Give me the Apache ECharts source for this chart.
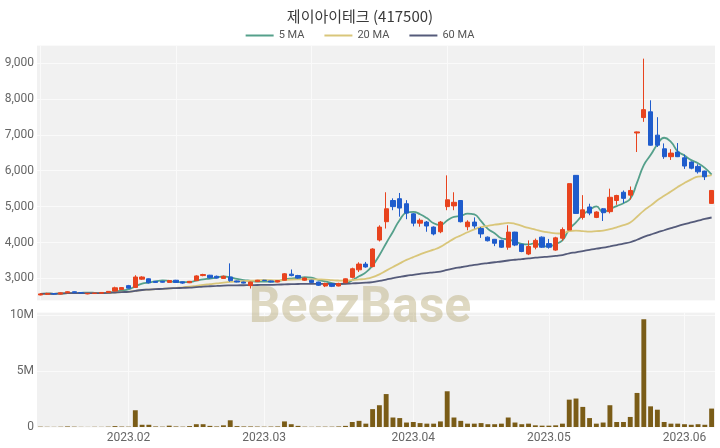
<!DOCTYPE html>
<html><head><meta charset="utf-8">
<script src="https://cdn.jsdelivr.net/npm/echarts@6/dist/echarts.min.js"></script>
<style>html,body{margin:0;padding:0;background:#fff}#c{width:720px;height:448px}</style>
</head><body><div id="c"></div>
<script>
const title = '제이아이테크 (417500)';
const dates = [
'2023-01-11','2023-01-12','2023-01-13','2023-01-16','2023-01-17','2023-01-18','2023-01-19','2023-01-20','2023-01-25','2023-01-26','2023-01-27','2023-01-30','2023-01-31',
'2023-02-01','2023-02-02','2023-02-03','2023-02-06','2023-02-07','2023-02-08','2023-02-09','2023-02-10','2023-02-13','2023-02-14','2023-02-15','2023-02-16','2023-02-17','2023-02-20','2023-02-21','2023-02-22','2023-02-23','2023-02-24','2023-02-27','2023-02-28',
'2023-03-02','2023-03-03','2023-03-06','2023-03-07','2023-03-08','2023-03-09','2023-03-10','2023-03-13','2023-03-14','2023-03-15','2023-03-16','2023-03-17','2023-03-20','2023-03-21','2023-03-22','2023-03-23','2023-03-24','2023-03-27','2023-03-28','2023-03-29','2023-03-30','2023-03-31',
'2023-04-03','2023-04-04','2023-04-05','2023-04-06','2023-04-07','2023-04-10','2023-04-11','2023-04-12','2023-04-13','2023-04-14','2023-04-17','2023-04-18','2023-04-19','2023-04-20','2023-04-21','2023-04-24','2023-04-25','2023-04-26','2023-04-27','2023-04-28',
'2023-05-02','2023-05-03','2023-05-04','2023-05-08','2023-05-09','2023-05-10','2023-05-11','2023-05-12','2023-05-15','2023-05-16','2023-05-17','2023-05-18','2023-05-19','2023-05-22','2023-05-23','2023-05-24','2023-05-25','2023-05-26','2023-05-30','2023-05-31',
'2023-06-01','2023-06-02','2023-06-05','2023-06-07','2023-06-08'];
const opens = [2540,2560,2580,2565,2600,2630,2605,2570,2580,2590,2610,2650,2690,
2800,2750,2980,2990,2920,2920,2890,2950,2905,2880,2940,3080,3090,3060,3000,3040,2930,2900,2800,2910,
2950,2930,2900,2950,3120,3080,2950,2950,2900,2790,2850,2790,2880,3030,3240,3400,3330,4070,4580,5170,5220,5080,
4800,4540,4570,4430,4300,5000,5020,5170,4440,4570,4390,4150,4090,4060,3870,4290,3950,3680,3870,4150,
3970,3790,4120,4350,5870,4700,4990,4700,4940,4860,5170,5400,5320,7050,7480,7640,6990,6610,6390,6520,
6360,6240,6120,5990,5090];
const closes = [2570,2580,2565,2600,2630,2605,2600,2580,2590,2610,2640,2740,2745,
2730,3040,3040,2880,2890,2895,2940,2890,2870,2920,3070,3110,3020,3010,3060,2940,2900,2870,2900,2950,
2940,2900,2940,3130,3080,3010,3010,2890,2810,2860,2780,2860,2990,3270,3400,3320,3820,4430,4940,5000,4960,4820,
4540,4620,4460,4240,4570,5190,5120,4580,4570,4460,4240,4050,3980,3870,4290,3930,3750,3890,4060,3870,
3870,4130,4360,5640,4810,4910,4820,4850,4830,5260,5310,5230,5450,7080,7700,6710,6710,6390,6490,6390,
6130,6070,5970,5830,5450];
const lows = [2530,2545,2550,2555,2590,2595,2590,2560,2575,2580,2600,2640,2680,
2720,2740,2960,2860,2880,2885,2875,2880,2850,2870,2930,3060,3000,3000,2990,2910,2890,2860,2720,2900,
2930,2890,2890,2940,3060,2990,2930,2880,2790,2760,2760,2780,2870,3000,3180,3300,3310,4030,4390,4900,4720,4650,
4450,4440,4300,4200,4260,4900,4900,4560,4340,4390,4130,4030,3900,3850,3800,3900,3730,3650,3810,3850,
3830,3770,4050,4340,4800,4640,4760,4680,4600,4810,5050,5100,5200,6520,7360,6700,6660,6330,6300,6380,
6050,6040,5920,5740,5080];
const highs = [2590,2600,2590,2615,2645,2640,2615,2595,2600,2620,2650,2770,2760,
2820,3090,3060,3000,2930,2930,2960,2960,2910,2930,3090,3130,3100,3080,3080,3420,2940,2910,2910,2960,
2960,2940,2950,3150,3250,3100,3030,2960,2910,2880,2870,2880,3000,3300,3450,3460,3840,4480,5400,5230,5380,5180,
4820,4670,4600,4450,4600,5870,5400,5180,4620,4700,4430,4170,4100,4080,4480,4300,3960,4060,4110,4170,
4100,4160,4420,5650,5880,5320,5080,4870,4960,5500,5330,5450,5560,7090,9120,7960,7490,6760,6600,6770,
6450,6260,6180,6000,5460];
const volumes = [30000,20000,15000,25000,50000,30000,15000,10000,20000,15000,30000,80000,40000,
30000,1500000,200000,200000,50000,30000,120000,50000,30000,80000,250000,250000,100000,50000,150000,600000,80000,50000,50000,40000,
30000,40000,50000,500000,250000,100000,30000,20000,30000,30000,30000,50000,100000,450000,550000,300000,1600000,1950000,2950000,850000,800000,400000,
450000,350000,300000,300000,500000,3200000,850000,550000,300000,300000,350000,250000,250000,300000,850000,400000,250000,300000,150000,120000,
120000,150000,300000,2450000,2550000,1800000,800000,300000,400000,1950000,450000,450000,900000,3050000,9650000,1850000,1550000,450000,300000,300000,
250000,200000,250000,200000,1650000];
const maPeriods = [5, 20, 60];
const maNames = ['5 MA', '20 MA', '60 MA'];
const maColors = ['#55a08b', '#d9c67a', '#555b7a'];

function movingAverage(n) {
  return closes.map(function (_, i) {
    const s = Math.max(0, i - n + 1);
    let sum = 0;
    for (let k = s; k <= i; k++) sum += closes[k];
    return Math.round(sum / (i - s + 1));
  });
}
const candleData = dates.map(function (_, i) { return [opens[i], closes[i], lows[i], highs[i]]; });
function isMonthStart(i) { return i > 0 && dates[i].slice(5, 7) !== dates[i - 1].slice(5, 7); }

const chart = echarts.init(document.getElementById('c'), null, {renderer: 'canvas'});
const font = 'Roboto, "Noto Sans", sans-serif';
const maSeries = maPeriods.map(function (p, k) {
  return {
    name: maNames[k], type: 'line', data: movingAverage(p), xAxisIndex: 0, yAxisIndex: 0,
    symbol: 'none', smooth: true, z: 3,
    lineStyle: {color: maColors[k], width: 1.8}, itemStyle: {color: maColors[k]}
  };
});
chart.setOption({
  animation: false,
  backgroundColor: '#ffffff',
  title: {text: title, left: 'center', top: 4,
    textStyle: {fontSize: 15, fontWeight: 'normal', color: '#3a3a3a', fontFamily: '"Noto Sans CJK KR", "Noto Sans", sans-serif'}},
  legend: {data: maNames, top: 25, left: 'center', icon: 'rect', itemWidth: 28, itemHeight: 2, itemGap: 20,
    textStyle: {fontSize: 11, color: '#555', fontFamily: font}},
  graphic: [{type: 'text', left: 'center', top: 284, z: 1, silent: true,
    style: {text: 'BeezBase', fontSize: 50, fontWeight: 'bold', fontFamily: 'Roboto, "DejaVu Sans", sans-serif',
      fill: 'rgba(185,170,120,0.45)'}}],
  grid: [
    {left: 37, right: 5, top: 45, height: 255, show: true, backgroundColor: '#f1f1f1', borderWidth: 0},
    {left: 37, right: 5, top: 312, bottom: 21, show: true, backgroundColor: '#f1f1f1', borderWidth: 0}
  ],
  xAxis: [
    {type: 'category', gridIndex: 0, data: dates, boundaryGap: true,
      axisLine: {show: false}, axisTick: {show: false}, axisLabel: {show: false},
      splitLine: {show: true, alignWithLabel: true, interval: function (i) { return i % 20 === 0; },
        lineStyle: {color: '#fafafa', width: 1}}},
    {type: 'category', gridIndex: 1, data: dates, boundaryGap: true,
      axisLine: {show: false}, axisTick: {show: false},
      axisLabel: {interval: function (i) { return isMonthStart(i); }, color: '#666', fontSize: 12, margin: 5,
        fontFamily: font, formatter: function (v) { return v.slice(0, 7).replace('-', '.'); }},
      splitLine: {show: true, alignWithLabel: true, interval: function (i) { return isMonthStart(i); },
        lineStyle: {color: '#fafafa', width: 1}}}
  ],
  yAxis: [
    {type: 'value', gridIndex: 0, min: 2400, max: 9500, splitNumber: 7, scale: true,
      axisLine: {show: false}, axisTick: {show: false},
      axisLabel: {color: '#666', fontSize: 12, margin: 3, fontFamily: font,
        formatter: function (v) { return v % 1000 === 0 ? v.toLocaleString('en-US') : ''; }},
      splitLine: {lineStyle: {color: '#fafafa', width: 1}}},
    {type: 'value', gridIndex: 1, min: 0, max: 10300000, splitNumber: 2,
      axisLine: {show: false}, axisTick: {show: false},
      axisLabel: {color: '#666', fontSize: 12, margin: 3, fontFamily: font,
        formatter: function (v) { return v % 5000000 === 0 ? (v === 0 ? '0' : (v / 1000000) + 'M') : ''; }},
      splitLine: {lineStyle: {color: '#fafafa', width: 1}}}
  ],
  series: [
    {name: 'price', type: 'candlestick', data: candleData, xAxisIndex: 0, yAxisIndex: 0, barWidth: '70%', z: 4,
      itemStyle: {color: '#e8431e', color0: '#1f5ccc', borderColor: '#e8431e', borderColor0: '#1f5ccc', borderWidth: 1}},
  ].concat(maSeries).concat([
    {name: 'volume', type: 'bar', data: volumes, xAxisIndex: 1, yAxisIndex: 1, barWidth: '72%',
      itemStyle: {color: '#7a5c17'}}
  ])
});
</script></body></html>
